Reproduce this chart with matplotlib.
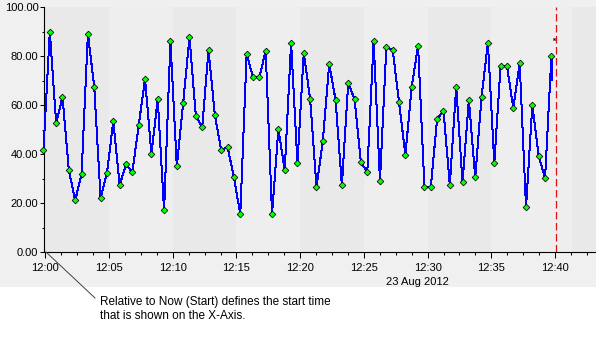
import numpy as np
import pandas as pd
import matplotlib
matplotlib.use("Agg")
import matplotlib.pyplot as plt
import matplotlib.dates as mdates
from matplotlib.patches import Rectangle
from matplotlib.ticker import AutoMinorLocator, MultipleLocator

plt.rcParams["font.family"] = ["Liberation Sans", "DejaVu Sans"]

DAY = "2012-08-23 "

# sampled trend values, one every ~30 s
values = [
    41.6, 90.0, 52.6, 63.4, 33.4, 21.1, 31.8, 89.2, 67.4, 22.0,
    32.2, 53.4, 27.3, 35.9, 32.6, 51.8, 70.8, 40.0, 62.4, 17.0,
    86.2, 35.0, 60.8, 87.9, 55.5, 51.0, 82.5, 55.9, 41.6, 42.9,
    30.5, 15.4, 81.0, 71.4, 71.4, 82.2, 15.4, 50.3, 33.4, 85.5,
    36.3, 81.4, 62.6, 26.5, 45.3, 76.9, 62.2, 27.3, 69.1, 62.4,
    36.7, 32.6, 86.2, 28.9, 83.8, 82.6, 61.3, 39.7, 67.5, 84.3,
    26.5, 26.5, 54.4, 57.7, 27.4, 67.5, 28.5, 62.2, 30.5, 63.4,
    85.5, 36.3, 76.1, 76.1, 58.8, 77.3, 18.3, 60.1, 39.3, 30.1,
    80.2,
]
times = pd.date_range(DAY + "11:59:51", DAY + "12:39:43", periods=len(values))

# trailing live segment and the current-value cursor
live_time = pd.Timestamp(DAY + "12:39:48")
live_value = 70.3
cursor_time = pd.Timestamp(DAY + "12:39:56")
cursor_value = 87.0
now_time = pd.Timestamp(DAY + "12:40:04")

x_start = pd.Timestamp(DAY + "11:59:55")
x_end = pd.Timestamp(DAY + "12:43:13")

# alternating shaded bands in the plot area
dark_bands = [
    ("11:59:55", "12:05:00"),
    ("12:10:00", "12:15:00"),
    ("12:20:00", "12:25:00"),
    ("12:30:00", "12:35:00"),
    ("12:41:19", "12:43:13"),
]

W, H = 596, 350
fig = plt.figure(figsize=(W / 100, H / 100), dpi=100, facecolor="white")
# grey chart panel behind the axes, white area for the note below
fig.patches.append(Rectangle((0, 1 - 287 / H), 1, 287 / H, transform=fig.transFigure,
                             facecolor="#f0f0f0", edgecolor="none", zorder=-10))

ax = fig.add_axes([44.3 / W, 98 / H, (W - 44.3) / W, 244.7 / H])
ax.set_facecolor("#eeeeee")
for a, b in dark_bands:
    ax.axvspan(pd.Timestamp(DAY + a), pd.Timestamp(DAY + b), color="#e9e9e9", lw=0, zorder=0)

ax.plot(list(times[-1:]) + [live_time], [values[-1], live_value], color="#0000ff",
        lw=0.72, antialiased=False, zorder=2)
ax.plot(times, values, color="#0000ff", lw=0.72, antialiased=False, zorder=3,
        marker="D", ms=3.4, mfc="#00ff00", mec="black", mew=0.55, clip_on=False)
ax.plot([cursor_time], [cursor_value], marker="x", ms=1.5, mew=0.7, color="black", zorder=4)
ax.axvline(now_time, color="#e01010", lw=0.9, dashes=(6, 2.8), zorder=4)

ax.set_xlim(x_start, x_end)
ax.set_ylim(0, 100)

ax.xaxis.set_major_locator(mdates.MinuteLocator(byminute=range(0, 60, 5)))
ax.xaxis.set_major_formatter(mdates.DateFormatter("%H:%M"))
ax.xaxis.set_minor_locator(AutoMinorLocator(4))
ax.yaxis.set_major_locator(MultipleLocator(20))
ax.yaxis.set_minor_locator(MultipleLocator(10))
ax.yaxis.set_major_formatter(lambda v, p: f"{v:.2f}")

ax.tick_params(axis="x", which="major", length=4.3, width=0.75, pad=3.5, labelsize=8, colors="black")
ax.tick_params(axis="x", which="minor", length=2.3, width=0.75)
ax.tick_params(axis="y", which="major", length=3, width=0.75, pad=1.2, labelsize=8)
ax.tick_params(axis="y", which="minor", length=1.6, width=0.75)

for side in ("top", "right"):
    ax.spines[side].set_visible(False)
for side in ("left", "bottom"):
    ax.spines[side].set_color("black")
    ax.spines[side].set_linewidth(0.8)

fig.text(417 / W, 1 - 282 / H, "23 Aug 2012", ha="center", va="center", fontsize=8)

# callout pointing at the axis start
fig.add_artist(plt.Line2D([46 / W, 95 / W], [1 - 252 / H, 1 - 298 / H], color="#404040",
                          lw=0.7, transform=fig.transFigure))
fig.text(100 / W, 1 - 309 / H, "Relative to Now (Start) defines the start time\n"
         "that is shown on the X-Axis.", ha="left", va="center", fontsize=8.5,
         linespacing=1.25, color="#000000")

fig.savefig("out.png", dpi=100, facecolor=fig.get_facecolor())
